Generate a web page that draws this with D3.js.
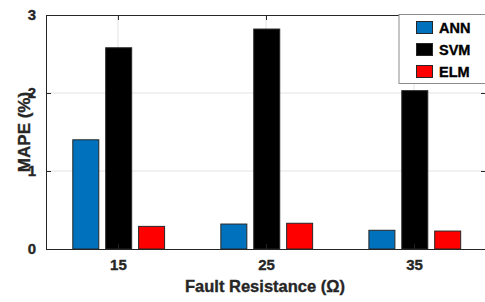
<!DOCTYPE html>
<html>
<head>
<meta charset="utf-8">
<script src="https://cdn.jsdelivr.net/npm/d3@7"></script>
<style>
body { margin: 0; background: #fff; }
text { font-family: "Liberation Sans", Arial, sans-serif; font-weight: 700; fill: #262626; stroke: #262626; stroke-width: 0.35px; }
</style>
</head>
<body>
<div id="chart"></div>
<script>
const WIDTH = 485;
const HEIGHT = 302;

// data
const resistances = [15, 25, 35];
const methods = ["ANN", "SVM", "ELM"];
const annValues = [1.40, 0.32, 0.24];
const svmValues = [2.58, 2.82, 2.03];
const elmValues = [0.29, 0.33, 0.23];
const yTicks = [0, 1, 2, 3];

const colors = { ANN: "#0072BD", SVM: "#000000", ELM: "#FF0000" };
const seriesValues = { ANN: annValues, SVM: svmValues, ELM: elmValues };

const PLOT_LEFT = 46, PLOT_RIGHT = 486, PLOT_TOP = 15, PLOT_BOTTOM = 249;

var svg = d3.select("#chart")
    .append("svg")
    .attr("width", WIDTH)
    .attr("height", HEIGHT);

var xScale = d3.scaleLinear()
    .domain([10.14, 39.86])
    .range([PLOT_LEFT, PLOT_RIGHT]);

var yScale = d3.scaleLinear()
    .domain([0, 3])
    .range([PLOT_BOTTOM, PLOT_TOP]);

// offsets of each bar inside a group, in data units
var groupOffset = d3.scaleBand()
    .domain(methods)
    .range([-3.05, 3.15])
    .paddingInner(0.21);

// grid
svg.append("g")
    .selectAll("line")
    .data(yTicks.slice(1, -1))
    .enter()
    .append("line")
    .attr("x1", PLOT_LEFT).attr("x2", PLOT_RIGHT)
    .attr("y1", d => yScale(d)).attr("y2", d => yScale(d))
    .attr("stroke", "#e3e3e3");

svg.append("g")
    .selectAll("line")
    .data(resistances)
    .enter()
    .append("line")
    .attr("x1", d => xScale(d)).attr("x2", d => xScale(d))
    .attr("y1", PLOT_TOP).attr("y2", PLOT_BOTTOM)
    .attr("stroke", "#e3e3e3");

// bars
methods.forEach(function(m) {
    svg.append("g")
        .selectAll("rect")
        .data(seriesValues[m])
        .enter()
        .append("rect")
        .attr("x", (d, i) => xScale(resistances[i] + groupOffset(m)))
        .attr("width", xScale(groupOffset.bandwidth()) - xScale(0))
        .attr("y", d => yScale(d))
        .attr("height", d => yScale(0) - yScale(d))
        .attr("fill", colors[m])
        .attr("stroke", "#262626")
        .attr("stroke-width", 1);
});

// axes
var xAxis = d3.axisBottom(xScale).tickValues(resistances).tickSizeInner(-5).tickSizeOuter(0).tickPadding(10);
var yAxis = d3.axisLeft(yScale).tickValues(yTicks).tickFormat(d3.format("d"))
    .tickSizeInner(-5).tickSizeOuter(0).tickPadding(10);

var gx = svg.append("g")
    .attr("transform", "translate(0," + PLOT_BOTTOM + ")")
    .call(xAxis);
var gy = svg.append("g")
    .attr("transform", "translate(" + PLOT_LEFT + ",0)")
    .call(yAxis);

[gx, gy].forEach(function(g) {
    g.selectAll("path").attr("stroke", "#262626");
    g.selectAll("line").attr("stroke", "#262626");
    g.selectAll("text").style("font-size", "15px").attr("fill", "#262626");
});

// top ticks and right ticks (inward)
svg.append("g")
    .attr("transform", "translate(0," + PLOT_TOP + ")")
    .call(d3.axisTop(xScale).tickValues(resistances).tickSizeInner(-5).tickSizeOuter(0).tickFormat(""))
    .call(g => g.selectAll("path, line").attr("stroke", "#262626"));
svg.append("g")
    .attr("transform", "translate(" + PLOT_RIGHT + ",0)")
    .call(d3.axisRight(yScale).tickValues(yTicks).tickSizeInner(-5).tickSizeOuter(0).tickFormat(""))
    .call(g => g.selectAll("path, line").attr("stroke", "#262626"));

// labels
svg.append("text")
    .attr("x", 265)
    .attr("y", 292)
    .attr("text-anchor", "middle")
    .style("font-size", "16.5px")
    .text("Fault Resistance (Ω)");

svg.append("text")
    .attr("text-anchor", "middle")
    .attr("transform", "translate(30,132) rotate(-90)")
    .style("font-size", "17px")
    .text("MAPE (%)");

// legend
var legend = svg.append("g");
legend.append("rect")
    .attr("x", 399).attr("y", 14.5)
    .attr("width", 100).attr("height", 69)
    .attr("fill", "#fff")
    .attr("stroke", "#8c8c8c");

var legendRow = d3.scalePoint()
    .domain(methods)
    .range([27.5, 71.5]);

methods.forEach(function(m) {
    legend.append("rect")
        .attr("x", 416.5).attr("y", legendRow(m) - 6)
        .attr("width", 16).attr("height", 12)
        .attr("fill", colors[m])
        .attr("stroke", "#262626");
    legend.append("text")
        .attr("x", 439).attr("y", legendRow(m) + 5.5)
        .style("font-size", "14.5px")
        .style("fill", "#000")
        .style("stroke", "#000")
        .text(m);
});
</script>
</body>
</html>
